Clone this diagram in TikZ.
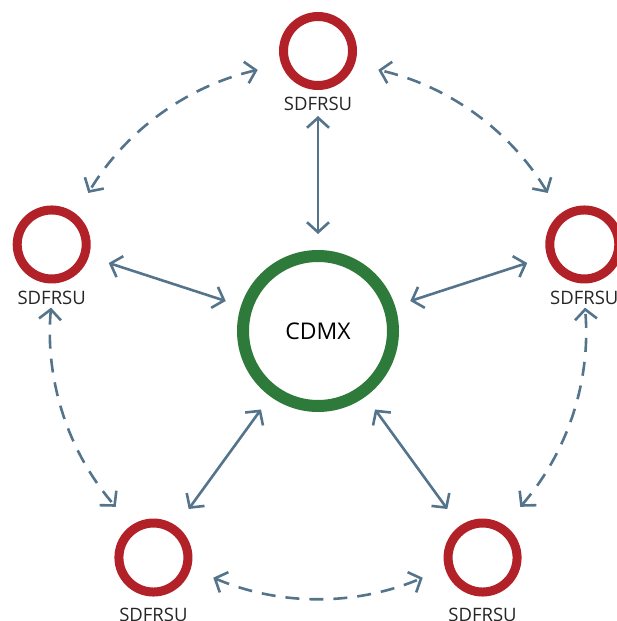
\documentclass[tikz,border=0pt]{standalone}
\usepackage{fontspec}
\setmainfont{Open Sans}
\usetikzlibrary{arrows.meta}
\definecolor{ringred}{RGB}{178,32,40}
\definecolor{ringgreen}{RGB}{45,122,58}
\definecolor{arrowblue}{RGB}{84,116,140}
\tikzset{
  redring/.style={circle, draw=ringred, line width=9pt, minimum size=69pt, inner sep=0pt, fill=white},
  greenring/.style={circle, draw=ringgreen, line width=12pt, minimum size=150pt, inner sep=0pt, fill=white,
     font=\fontsize{23}{26}\selectfont},
  lbl/.style={font=\fontsize{18.5}{20}\selectfont, inner sep=0pt, text=black!85},
  link/.style={draw=arrowblue, line width=2.6pt, {Straight Barb[length=10pt,width=22pt]}-{Straight Barb[length=10pt,width=22pt]}},
  dlink/.style={link, dash pattern=on 14pt off 10pt}
}
\begin{document}
\begin{tikzpicture}[x=1pt,y=1pt]
\useasboundingbox (0,0) rectangle (616,-621);
\coordinate (o) at (318,-331);
\node[greenring] (c) at (o) {CDMX};
\foreach \n/\a/\d in {t/90/53, l/162/53, bl/234/57, br/306/57, r/18/53}{
  \node[redring] (\n) at ([shift={(\a:280)}]o) {};
  \node[lbl] (\n lab) at ([shift={(0,-\d)}]\n) {SDFRSU};
}
% solid arrows
\draw[link, shorten <=16pt, shorten >=26pt] (c) -- (t);
\foreach \n in {l,bl,br,r}{
  \draw[link, shorten <=16pt, shorten >=21pt] (c) -- (\n);
}
% dashed arcs
\foreach \s/\e/\k in {103/149/1, 175/221/2, 247/293/3, 319/365/4, 31/77/5}{
  \coordinate (a\k) at ([shift={(\s:268)}]o);
  \draw[dlink] (a\k) arc[start angle=\s, end angle=\e, radius=268];
}
\end{tikzpicture}
\end{document}
